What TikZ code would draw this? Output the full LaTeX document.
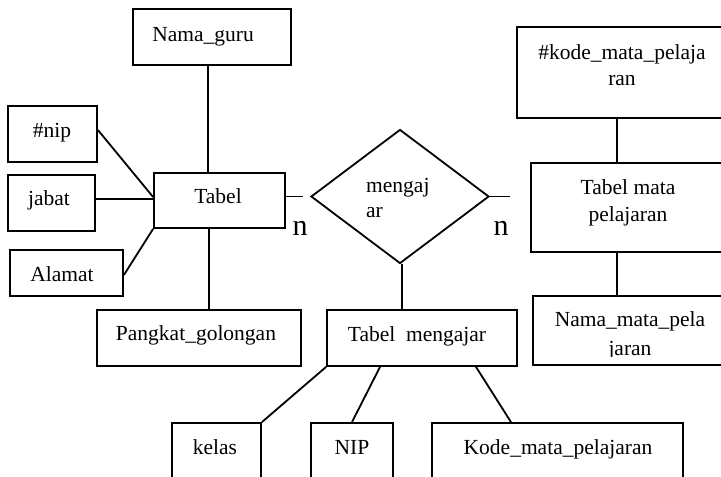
\documentclass[tikz,border=0pt]{standalone}
\usepackage{fontspec}
\setmainfont{Liberation Serif}
\usetikzlibrary{shapes.geometric}
\begin{document}
\begin{tikzpicture}[x=1pt,y=-1pt,
  box/.style={draw, line width=1.8pt, rectangle, inner sep=0pt},
  rel/.style={draw, line width=1.8pt, shape=diamond, inner sep=0pt, miter limit=20},
  conn/.style={line width=1.8pt},
  txt/.style={anchor=base, inner sep=0pt, font=\fontsize{21.5}{26}\selectfont},
  txtl/.style={anchor=base west, inner sep=0pt, font=\fontsize{21.5}{26}\selectfont},
  card/.style={anchor=base, inner sep=0pt, font=\fontsize{30}{34}\selectfont}]
\useasboundingbox (0,0) rectangle (721,477);
\clip (0,0) rectangle (721,477);

% boxes
\node[box, minimum width=158pt, minimum height=56pt] (ng) at (212,37) {};
\node[box, minimum width=89pt, minimum height=56pt] (nip) at (52.5,134) {};
\node[box, minimum width=87pt, minimum height=56pt] (jab) at (51.5,203) {};
\node[box, minimum width=113pt, minimum height=46pt] (al) at (66.5,273) {};
\node[box, minimum width=131pt, minimum height=55pt] (tb) at (219.5,200.5) {};
\node[box, minimum width=204pt, minimum height=56pt] (pg) at (199,338) {};
\node[rel, minimum width=178pt, minimum height=134pt] (mj) at (400,196.5) {};
\node[box, minimum width=190pt, minimum height=56pt] (tm) at (422,338) {};
\node[box, minimum width=89pt, minimum height=87pt] (kl) at (216.5,466.5) {};
\node[box, minimum width=82pt, minimum height=87pt] (nipb) at (352,466.5) {};
\node[box, minimum width=251pt, minimum height=87pt] (kd) at (557.5,466.5) {};
\node[box, minimum width=210pt, minimum height=91pt] (kode) at (622,72.5) {};
\node[box, minimum width=196pt, minimum height=89pt] (tmp) at (629,207.5) {};
\node[box, minimum width=194pt, minimum height=69pt] (nm) at (630,330.5) {};

% texts
\node[txt] (ngt) at (203,41) {Nama\_guru};
\node[txt] (nipt) at (52,137) {\#nip};
\node[txt] (jabt) at (49,205) {jabat};
\node[txt] (tbt) at (218,203) {Tabel};
\node[txt] (alt) at (62,281) {Alamat};
\node[txt] (pgt) at (196,340) {Pangkat\_golongan};
\node[txtl] (mjt1) at (366,192) {mengaj};
\node[txtl] (mjt2) at (366,217) {ar};
\node[txt] (kodet1) at (622,59) {\#kode\_mata\_pelaja};
\node[txt] (kodet2) at (622,85) {ran};
\node[txt] (tmpt1) at (628,194) {Tabel mata};
\node[txt] (tmpt2) at (628,221) {pelajaran};
\node[txt] (tmt) at (417,341) {Tabel~~mengajar};
\node[txt] (nmt1) at (630,326) {Nama\_mata\_pela};
\begin{scope}
\clip (533,296) rectangle (727,356);
\node[txt] (nmt2) at (630,355) {jaran};
\end{scope}
\node[txt] (klt) at (215,454) {kelas};
\node[txt] (nipbt) at (352,454) {NIP};
\node[txt] (kdt) at (558,454) {Kode\_mata\_pelajaran};
\node[card] (n1) at (300,235) {n};
\node[card] (n2) at (501,235) {n};

% connectors
\draw[conn] ([xshift=-4pt]ng.south) -- ([xshift=-4pt]ng.south |- tb.north);
\draw[conn] ([yshift=4pt]nip.east) -- ([yshift=3.5pt]tb.west);
\draw[conn] ([yshift=4pt]jab.east) -- ([yshift=4pt]jab.east -| tb.west);
\draw[conn] ([yshift=-2pt]al.east) -- (tb.south west);
\draw[conn] ([xshift=-10.5pt]tb.south) -- ([xshift=-10.5pt]tb.south |- pg.north);
\draw[conn] (tb.east |- mj.west) -- ([xshift=-7pt]mj.west);
\draw[conn] (mj.east) -- ([xshift=20pt]mj.east);
\draw[conn] ([xshift=2pt]mj.south) -- ([xshift=2pt]mj.south |- tm.north);
\draw[conn] (tm.south west) -- (kl.north east);
\draw[conn] ([xshift=-42pt]tm.south) -- (nipb.north);
\draw[conn] ([xshift=54pt]tm.south) -- ([xshift=-46.5pt]kd.north);
\draw[conn] ([xshift=-5pt]kode.south) -- ([xshift=-5pt]kode.south |- tmp.north);
\draw[conn] ([xshift=-12pt]tmp.south) -- ([xshift=-12pt]tmp.south |- nm.north);
\end{tikzpicture}
\end{document}
